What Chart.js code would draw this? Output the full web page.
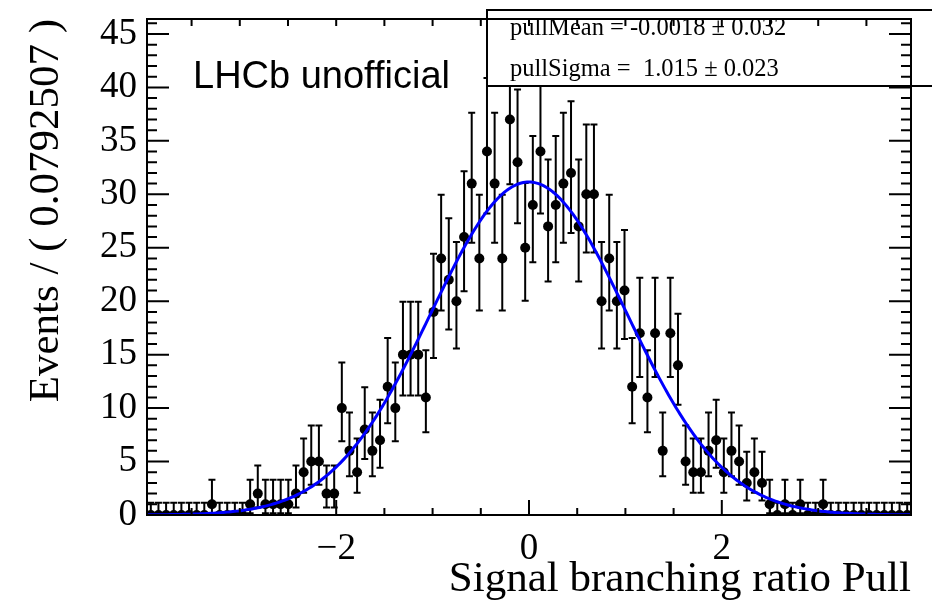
<!DOCTYPE html>
<html>
<head>
<meta charset="utf-8">
<script src="https://cdn.jsdelivr.net/npm/chart.js@4.4.0/dist/chart.umd.min.js"></script>
<style>
  body { margin: 0; background: #fff; }
</style>
</head>
<body>
<canvas id="pullChart" width="932" height="601"></canvas>
<script>
// binning of the pull histogram
const binWidth = 0.0792507;
const xMin = -3.9625;
const xMax = 3.9625;

// toy events per bin, left to right
const counts = [
  0, 0, 0, 0, 0, 0, 0, 0, 1, 0,
  0, 0, 0, 1, 2, 1, 1, 1, 1, 2,
  4, 5, 5, 2, 2, 10, 6, 4, 8, 6,
  7, 12, 10, 15, 15, 15, 11, 19, 24, 22,
  20, 26, 31, 24, 34, 31, 24, 37, 33, 25,
  29, 34, 27, 29, 31, 32, 27, 30, 30, 20,
  24, 20, 21, 12, 17, 11, 17, 6, 17, 14,
  5, 4, 4, 6, 7, 4, 6, 5, 3, 4,
  3, 1, 0, 1, 0, 1, 0, 0, 1, 0,
  0, 0, 0, 0, 0, 0, 0, 0, 0, 0
];

// gaussian fit result
const pullMean = -0.0018, pullMeanErr = 0.032;
const pullSigma = 1.015, pullSigmaErr = 0.023;

const xTickValues = [-2, 0, 2];
const yTickValues = [0, 5, 10, 15, 20, 25, 30, 35, 40, 45];
const yMax = 46.4;

const serif = 'Liberation Serif';
const sans = 'Liberation Sans';

const binCenters = counts.map((_, i) => xMin + (i + 0.5) * binWidth);

// 68% Poisson interval, same convention as RooFit data points
function poissonCdf(k, mu) {
  let term = Math.exp(-mu), sum = term;
  for (let i = 1; i <= k; i++) { term *= mu / i; sum += term; }
  return sum;
}
function solve(f, target, lo, hi) {
  // f decreasing in mu
  for (let it = 0; it < 80; it++) {
    const mid = 0.5 * (lo + hi);
    if (f(mid) > target) lo = mid; else hi = mid;
  }
  return 0.5 * (lo + hi);
}
function poissonInterval(n) {
  if (n === 0) return [0, solve(mu => Math.exp(-mu), 0.3173, 0, 10)];
  const alpha = 0.15866;
  const up = solve(mu => poissonCdf(n, mu), alpha, 0, n + 40);
  const low = solve(mu => poissonCdf(n - 1, mu), 1 - alpha, 0, n + 40);
  return [low, up];
}

// fitted pdf scaled to the number of events
const nEvents = counts.reduce((a, b) => a + b, 0);
const norm = nEvents * binWidth / (Math.sqrt(2 * Math.PI) * pullSigma);
const curve = [];
for (let k = 0; k <= 400; k++) {
  const xv = xMin + (xMax - xMin) * k / 400;
  const z = (xv - pullMean) / pullSigma;
  curve.push({ x: xv, y: norm * Math.exp(-0.5 * z * z) });
}

const points = counts.map((n, i) => ({ x: binCenters[i], y: n }));

const rootFrame = {
  id: 'rootFrame',
  beforeDatasetsDraw(chart) {
    const { ctx, chartArea: a, scales: { x, y } } = chart;
    ctx.save();
    ctx.beginPath();
    ctx.rect(a.left, a.top - 1, a.width, a.height + 2);
    ctx.clip();
    ctx.strokeStyle = '#000';
    ctx.lineWidth = 2;
    counts.forEach((n, i) => {
      const [lo, hi] = poissonInterval(n);
      const px = x.getPixelForValue(binCenters[i]);
      const y1 = y.getPixelForValue(lo);
      const y2 = y.getPixelForValue(hi);
      ctx.beginPath();
      ctx.moveTo(px, y1); ctx.lineTo(px, y2);
      ctx.moveTo(px - 3.5, y1); ctx.lineTo(px + 3.5, y1);
      ctx.moveTo(px - 3.5, y2); ctx.lineTo(px + 3.5, y2);
      ctx.stroke();
    });
    ctx.restore();
  },
  afterDatasetsDraw(chart) {
    const { ctx, chartArea: a, scales: { x, y } } = chart;
    ctx.save();

    // stats box
    ctx.fillStyle = '#fff';
    ctx.fillRect(487, 10, 470, 76);
    ctx.strokeStyle = '#000';
    ctx.lineWidth = 2;
    ctx.strokeRect(487, 10, 470, 76);
    ctx.fillStyle = '#000';
    ctx.font = '24.5px "' + serif + '"';
    ctx.textBaseline = 'alphabetic';
    ctx.textAlign = 'left';
    ctx.fillText('pullMean = ' + pullMean.toFixed(4) + ' \u00b1 ' + pullMeanErr.toFixed(3), 510, 35);
    ctx.fillText('pullSigma =  ' + pullSigma.toFixed(3) + ' \u00b1 ' + pullSigmaErr.toFixed(3), 510, 76);

    // frame
    ctx.lineWidth = 2;
    ctx.strokeRect(a.left, a.top, a.width, a.height);

    // ticks pointing inwards
    ctx.beginPath();
    for (let v = -3.5; v <= 3.5; v += 0.5) {
      const px = x.getPixelForValue(v);
      const major = Math.abs(v % 2) < 1e-9;
      ctx.moveTo(px, a.bottom); ctx.lineTo(px, a.bottom - (major ? 15 : 7));
      ctx.moveTo(px, a.top); ctx.lineTo(px, a.top + 7);
    }
    for (let v = 0; v <= 46; v++) {
      const py = y.getPixelForValue(v);
      const len = v % 5 === 0 ? 22 : 10;
      ctx.moveTo(a.left, py); ctx.lineTo(a.left + len, py);
      ctx.moveTo(a.right, py); ctx.lineTo(a.right - len, py);
    }
    ctx.stroke();

    ctx.font = '38px "' + sans + '"';
    ctx.fillText('LHCb unofficial', 193, 88);
    ctx.restore();
  }
};

new Chart(document.getElementById('pullChart'), {
  type: 'scatter',
  data: {
    datasets: [
      {
        type: 'line',
        data: curve,
        borderColor: '#0000ff',
        borderWidth: 3,
        pointRadius: 0,
        fill: false
      },
      {
        data: points,
        backgroundColor: '#000',
        borderWidth: 0,
        pointRadius: 5
      }
    ]
  },
  options: {
    responsive: false,
    animation: false,
    layout: { padding: { top: 19, right: 21, left: 0, bottom: 0 } },
    plugins: { legend: { display: false }, tooltip: { enabled: false } },
    scales: {
      x: {
        type: 'linear',
        min: xMin,
        max: xMax,
        grid: { display: false, drawTicks: false },
        border: { display: false },
        afterBuildTicks: s => { s.ticks = xTickValues.map(v => ({ value: v })); },
        afterFit: s => { s.height = 86; s.paddingLeft = 0; s.paddingRight = 0; },
        ticks: {
          maxRotation: 0,
          autoSkip: false,
          padding: 12,
          color: '#000',
          font: { family: serif, size: 37 },
          callback: v => (v < 0 ? '\u2212' + Math.abs(v) : String(v))
        },
        title: {
          display: true,
          text: 'Signal branching ratio Pull',
          align: 'end',
          color: '#000',
          font: { family: serif, size: 43, lineHeight: 1.0 },
          padding: { top: 0, bottom: 0 }
        }
      },
      y: {
        min: 0,
        max: yMax,
        grid: { display: false, drawTicks: false },
        border: { display: false },
        afterBuildTicks: s => { s.ticks = yTickValues.map(v => ({ value: v })); },
        afterFit: s => { s.width = 147; s.paddingTop = 0; s.paddingBottom = 0; },
        ticks: {
          padding: 10,
          color: '#000',
          font: { family: serif, size: 37 }
        },
        title: {
          display: true,
          text: 'Events / ( 0.0792507 )',
          align: 'end',
          color: '#000',
          font: { family: serif, size: 43, lineHeight: 1.1 },
          padding: { top: 23, bottom: 0 }
        }
      }
    }
  },
  plugins: [rootFrame]
});
</script>
</body>
</html>
